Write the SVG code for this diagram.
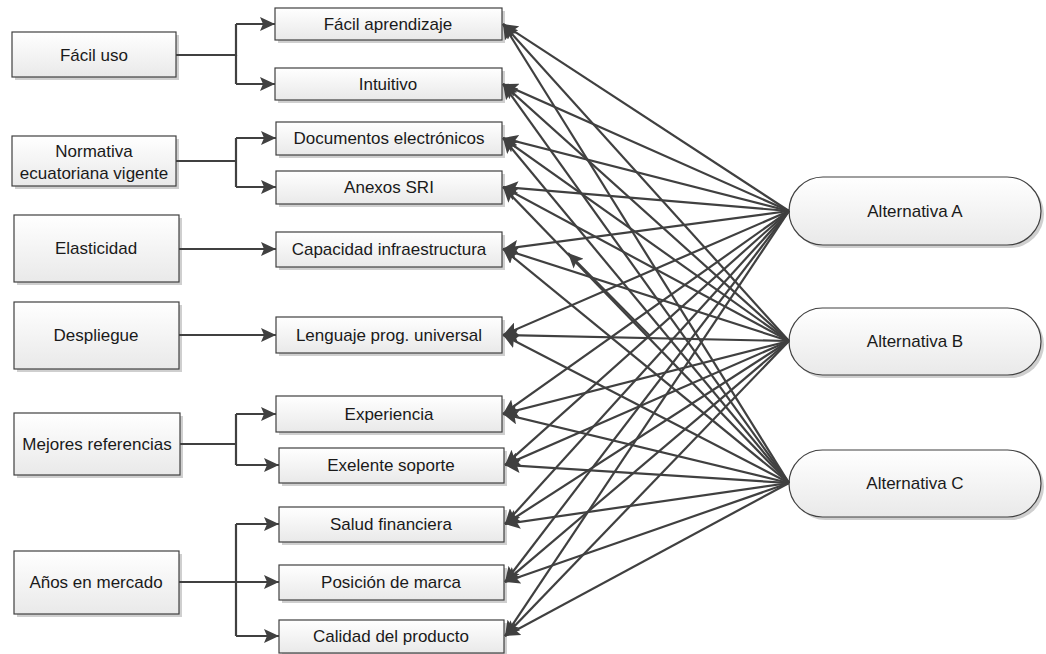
<svg xmlns="http://www.w3.org/2000/svg" width="1046" height="654" viewBox="0 0 1046 654">
<defs>
<linearGradient id="g" x1="0" y1="0" x2="0" y2="1"><stop offset="0" stop-color="#ffffff"/><stop offset="1" stop-color="#e9e9e9"/></linearGradient>
<marker id="ar" markerUnits="userSpaceOnUse" markerWidth="16" markerHeight="14" refX="15" refY="7" orient="auto"><path d="M0,0 L15,7 L0,14 L3,7 z" fill="#404040"/></marker>
</defs>
<style>
.box{fill:url(#g);stroke:#404040;stroke-width:1.2}
.sh{fill:#cfcfcf}
.t{font-family:"Liberation Sans",Arial,sans-serif;font-size:17px;fill:#1a1a1a;text-anchor:middle}
.c line,.c path{stroke:#404040;stroke-width:2.2;fill:none}
.a{marker-end:url(#ar)}
</style>
<rect width="1046" height="654" fill="#ffffff"/>
<g id="n-facil-uso"><rect class="sh" x="15" y="35" width="164" height="45"/><rect class="box" x="12" y="32" width="164" height="45"/><text class="t" x="94" y="61">Fácil uso</text></g>
<g id="n-normativa"><rect class="sh" x="15" y="139" width="164" height="50"/><rect class="box" x="12" y="136" width="164" height="50"/><text class="t" x="94" y="157">Normativa</text><text class="t" x="94" y="179">ecuatoriana vigente</text></g>
<g id="n-elasticidad"><rect class="sh" x="17" y="218" width="165" height="67"/><rect class="box" x="14" y="215" width="165" height="67"/><text class="t" x="96" y="254">Elasticidad</text></g>
<g id="n-despliegue"><rect class="sh" x="17" y="305" width="165" height="67"/><rect class="box" x="14" y="302" width="165" height="67"/><text class="t" x="96" y="341">Despliegue</text></g>
<g id="n-mejores"><rect class="sh" x="17" y="416" width="166" height="62"/><rect class="box" x="14" y="413" width="166" height="62"/><text class="t" x="97" y="450">Mejores referencias</text></g>
<g id="n-anos"><rect class="sh" x="17" y="554" width="165" height="63"/><rect class="box" x="14" y="551" width="165" height="63"/><text class="t" x="96" y="588">Años en mercado</text></g>

<g id="m1"><rect class="sh" x="278" y="11" width="227" height="32"/><rect class="box" x="275" y="8" width="227" height="32"/><text class="t" x="388" y="30">Fácil aprendizaje</text></g>
<g id="m2"><rect class="sh" x="278" y="71" width="227" height="32"/><rect class="box" x="275" y="68" width="227" height="32"/><text class="t" x="388" y="90">Intuitivo</text></g>
<g id="m3"><rect class="sh" x="279" y="125" width="226" height="33"/><rect class="box" x="276" y="122" width="226" height="33"/><text class="t" x="389" y="144">Documentos electrónicos</text></g>
<g id="m4"><rect class="sh" x="279" y="174" width="226" height="33"/><rect class="box" x="276" y="171" width="226" height="33"/><text class="t" x="389" y="193">Anexos SRI</text></g>
<g id="m5"><rect class="sh" x="279" y="235" width="226" height="35"/><rect class="box" x="276" y="232" width="226" height="35"/><text class="t" x="389" y="255">Capacidad infraestructura</text></g>
<g id="m6"><rect class="sh" x="279" y="320" width="226" height="36"/><rect class="box" x="276" y="317" width="226" height="36"/><text class="t" x="389" y="341">Lenguaje prog. universal</text></g>
<g id="m7"><rect class="sh" x="279" y="399" width="226" height="36"/><rect class="box" x="276" y="396" width="226" height="36"/><text class="t" x="389" y="420">Experiencia</text></g>
<g id="m8"><rect class="sh" x="282" y="451" width="225" height="35"/><rect class="box" x="279" y="448" width="225" height="35"/><text class="t" x="391" y="471">Exelente soporte</text></g>
<g id="m9"><rect class="sh" x="282" y="510" width="225" height="35"/><rect class="box" x="279" y="507" width="225" height="35"/><text class="t" x="391" y="530">Salud financiera</text></g>
<g id="m10"><rect class="sh" x="282" y="568" width="225" height="35"/><rect class="box" x="279" y="565" width="225" height="35"/><text class="t" x="391" y="588">Posición de marca</text></g>
<g id="m11"><rect class="sh" x="282" y="623" width="225" height="33"/><rect class="box" x="279" y="620" width="225" height="33"/><text class="t" x="391" y="642">Calidad del producto</text></g>

<g id="alt-a"><rect class="sh" x="792" y="180" width="252" height="68" rx="34"/><rect class="box" x="789" y="177" width="252" height="68" rx="34"/><text class="t" x="915" y="217">Alternativa A</text></g>
<g id="alt-b"><rect class="sh" x="792" y="311" width="252" height="67" rx="33.5"/><rect class="box" x="789" y="308" width="252" height="67" rx="33.5"/><text class="t" x="915" y="347">Alternativa B</text></g>
<g id="alt-c"><rect class="sh" x="792" y="453" width="252" height="67" rx="33.5"/><rect class="box" x="789" y="450" width="252" height="67" rx="33.5"/><text class="t" x="915" y="489">Alternativa C</text></g>

<g id="connectors" class="c">
<path d="M176,55 H236 V24"/><path d="M236,55 V84"/>
<line class="a" x1="236" y1="24" x2="275" y2="24"/><line class="a" x1="236" y1="84" x2="275" y2="84"/>
<path d="M176,161 H236 V138 M236,161 V187"/>
<line class="a" x1="236" y1="138" x2="276" y2="138"/><line class="a" x1="236" y1="187" x2="276" y2="187"/>
<line class="a" x1="179" y1="249" x2="276" y2="249"/>
<line class="a" x1="179" y1="335" x2="276" y2="335"/>
<path d="M180,444 H236 V414 M236,444 V465"/>
<line class="a" x1="236" y1="414" x2="276" y2="414"/><line class="a" x1="236" y1="465" x2="279" y2="465"/>
<path d="M179,582 H236 V524 M236,582 V636"/>
<line class="a" x1="236" y1="524" x2="279" y2="524"/><line class="a" x1="236" y1="582" x2="279" y2="582"/><line class="a" x1="236" y1="636" x2="279" y2="636"/>

<line class="a" x1="789" y1="211" x2="503" y2="24"/>
<line class="a" x1="789" y1="211" x2="503" y2="84"/>
<line class="a" x1="789" y1="211" x2="503" y2="138"/>
<line class="a" x1="789" y1="211" x2="503" y2="187"/>
<line class="a" x1="789" y1="211" x2="503" y2="249"/>
<line class="a" x1="789" y1="211" x2="503" y2="335"/>
<line class="a" x1="789" y1="211" x2="503" y2="414"/>
<line class="a" x1="789" y1="211" x2="505" y2="465"/>
<line class="a" x1="789" y1="211" x2="505" y2="524"/>
<line class="a" x1="789" y1="211" x2="505" y2="582"/>
<line class="a" x1="789" y1="211" x2="505" y2="636"/>

<line class="a" x1="789" y1="341" x2="503" y2="24"/>
<line class="a" x1="789" y1="341" x2="503" y2="84"/>
<line class="a" x1="789" y1="341" x2="503" y2="138"/>
<line class="a" x1="789" y1="341" x2="503" y2="187"/>
<line class="a" x1="789" y1="341" x2="503" y2="249"/>
<line class="a" x1="789" y1="341" x2="503" y2="335"/>
<line class="a" x1="789" y1="341" x2="503" y2="414"/>
<line class="a" x1="789" y1="341" x2="505" y2="465"/>
<line class="a" x1="789" y1="341" x2="505" y2="524"/>
<line class="a" x1="789" y1="341" x2="505" y2="582"/>
<line class="a" x1="789" y1="341" x2="505" y2="636"/>

<line class="a" x1="789" y1="483" x2="503" y2="24"/>
<line class="a" x1="789" y1="483" x2="503" y2="84"/>
<line class="a" x1="789" y1="483" x2="503" y2="138"/>
<line class="a" x1="789" y1="483" x2="503" y2="187"/>
<line class="a" x1="789" y1="483" x2="503" y2="249"/>
<line class="a" x1="789" y1="483" x2="503" y2="335"/>
<line class="a" x1="789" y1="483" x2="503" y2="414"/>
<line class="a" x1="789" y1="483" x2="505" y2="465"/>
<line class="a" x1="789" y1="483" x2="505" y2="524"/>
<line class="a" x1="789" y1="483" x2="505" y2="582"/>
<line class="a" x1="789" y1="483" x2="505" y2="636"/>
<line class="a" x1="650" y1="336" x2="568" y2="253"/>
</g>
</svg>
